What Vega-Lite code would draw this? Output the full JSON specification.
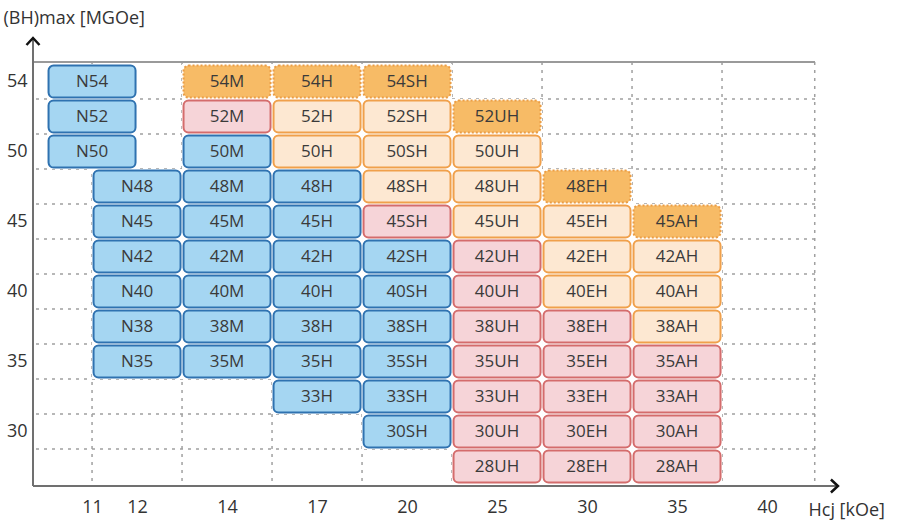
{
  "$schema": "https://vega.github.io/schema/vega-lite/v6.json",
  "width": 782,
  "height": 424,
  "autosize": {"type": "none"},
  "padding": {"left": 33, "top": 62, "right": 87, "bottom": 42},
  "background": "white",
  "config": {"view": {"stroke": null}, "font": "Open Sans"},
  "datasets": {
    "grades": [
      {"grade": "N54", "c0": 0.5, "c1": 1.5, "r0": 11, "r1": 12, "type": "B"},
      {"grade": "N52", "c0": 0.5, "c1": 1.5, "r0": 10, "r1": 11, "type": "B"},
      {"grade": "N50", "c0": 0.5, "c1": 1.5, "r0": 9, "r1": 10, "type": "B"},
      {"grade": "N48", "c0": 1, "c1": 2, "r0": 8, "r1": 9, "type": "B"},
      {"grade": "N45", "c0": 1, "c1": 2, "r0": 7, "r1": 8, "type": "B"},
      {"grade": "N42", "c0": 1, "c1": 2, "r0": 6, "r1": 7, "type": "B"},
      {"grade": "N40", "c0": 1, "c1": 2, "r0": 5, "r1": 6, "type": "B"},
      {"grade": "N38", "c0": 1, "c1": 2, "r0": 4, "r1": 5, "type": "B"},
      {"grade": "N35", "c0": 1, "c1": 2, "r0": 3, "r1": 4, "type": "B"},
      {"grade": "54M", "c0": 2, "c1": 3, "r0": 11, "r1": 12, "type": "O"},
      {"grade": "52M", "c0": 2, "c1": 3, "r0": 10, "r1": 11, "type": "R"},
      {"grade": "50M", "c0": 2, "c1": 3, "r0": 9, "r1": 10, "type": "B"},
      {"grade": "48M", "c0": 2, "c1": 3, "r0": 8, "r1": 9, "type": "B"},
      {"grade": "45M", "c0": 2, "c1": 3, "r0": 7, "r1": 8, "type": "B"},
      {"grade": "42M", "c0": 2, "c1": 3, "r0": 6, "r1": 7, "type": "B"},
      {"grade": "40M", "c0": 2, "c1": 3, "r0": 5, "r1": 6, "type": "B"},
      {"grade": "38M", "c0": 2, "c1": 3, "r0": 4, "r1": 5, "type": "B"},
      {"grade": "35M", "c0": 2, "c1": 3, "r0": 3, "r1": 4, "type": "B"},
      {"grade": "54H", "c0": 3, "c1": 4, "r0": 11, "r1": 12, "type": "O"},
      {"grade": "52H", "c0": 3, "c1": 4, "r0": 10, "r1": 11, "type": "P"},
      {"grade": "50H", "c0": 3, "c1": 4, "r0": 9, "r1": 10, "type": "P"},
      {"grade": "48H", "c0": 3, "c1": 4, "r0": 8, "r1": 9, "type": "B"},
      {"grade": "45H", "c0": 3, "c1": 4, "r0": 7, "r1": 8, "type": "B"},
      {"grade": "42H", "c0": 3, "c1": 4, "r0": 6, "r1": 7, "type": "B"},
      {"grade": "40H", "c0": 3, "c1": 4, "r0": 5, "r1": 6, "type": "B"},
      {"grade": "38H", "c0": 3, "c1": 4, "r0": 4, "r1": 5, "type": "B"},
      {"grade": "35H", "c0": 3, "c1": 4, "r0": 3, "r1": 4, "type": "B"},
      {"grade": "33H", "c0": 3, "c1": 4, "r0": 2, "r1": 3, "type": "B"},
      {"grade": "54SH", "c0": 4, "c1": 5, "r0": 11, "r1": 12, "type": "O"},
      {"grade": "52SH", "c0": 4, "c1": 5, "r0": 10, "r1": 11, "type": "P"},
      {"grade": "50SH", "c0": 4, "c1": 5, "r0": 9, "r1": 10, "type": "P"},
      {"grade": "48SH", "c0": 4, "c1": 5, "r0": 8, "r1": 9, "type": "P"},
      {"grade": "45SH", "c0": 4, "c1": 5, "r0": 7, "r1": 8, "type": "R"},
      {"grade": "42SH", "c0": 4, "c1": 5, "r0": 6, "r1": 7, "type": "B"},
      {"grade": "40SH", "c0": 4, "c1": 5, "r0": 5, "r1": 6, "type": "B"},
      {"grade": "38SH", "c0": 4, "c1": 5, "r0": 4, "r1": 5, "type": "B"},
      {"grade": "35SH", "c0": 4, "c1": 5, "r0": 3, "r1": 4, "type": "B"},
      {"grade": "33SH", "c0": 4, "c1": 5, "r0": 2, "r1": 3, "type": "B"},
      {"grade": "30SH", "c0": 4, "c1": 5, "r0": 1, "r1": 2, "type": "B"},
      {"grade": "52UH", "c0": 5, "c1": 6, "r0": 10, "r1": 11, "type": "O"},
      {"grade": "50UH", "c0": 5, "c1": 6, "r0": 9, "r1": 10, "type": "P"},
      {"grade": "48UH", "c0": 5, "c1": 6, "r0": 8, "r1": 9, "type": "P"},
      {"grade": "45UH", "c0": 5, "c1": 6, "r0": 7, "r1": 8, "type": "P"},
      {"grade": "42UH", "c0": 5, "c1": 6, "r0": 6, "r1": 7, "type": "R"},
      {"grade": "40UH", "c0": 5, "c1": 6, "r0": 5, "r1": 6, "type": "R"},
      {"grade": "38UH", "c0": 5, "c1": 6, "r0": 4, "r1": 5, "type": "R"},
      {"grade": "35UH", "c0": 5, "c1": 6, "r0": 3, "r1": 4, "type": "R"},
      {"grade": "33UH", "c0": 5, "c1": 6, "r0": 2, "r1": 3, "type": "R"},
      {"grade": "30UH", "c0": 5, "c1": 6, "r0": 1, "r1": 2, "type": "R"},
      {"grade": "28UH", "c0": 5, "c1": 6, "r0": 0, "r1": 1, "type": "R"},
      {"grade": "48EH", "c0": 6, "c1": 7, "r0": 8, "r1": 9, "type": "O"},
      {"grade": "45EH", "c0": 6, "c1": 7, "r0": 7, "r1": 8, "type": "P"},
      {"grade": "42EH", "c0": 6, "c1": 7, "r0": 6, "r1": 7, "type": "P"},
      {"grade": "40EH", "c0": 6, "c1": 7, "r0": 5, "r1": 6, "type": "P"},
      {"grade": "38EH", "c0": 6, "c1": 7, "r0": 4, "r1": 5, "type": "R"},
      {"grade": "35EH", "c0": 6, "c1": 7, "r0": 3, "r1": 4, "type": "R"},
      {"grade": "33EH", "c0": 6, "c1": 7, "r0": 2, "r1": 3, "type": "R"},
      {"grade": "30EH", "c0": 6, "c1": 7, "r0": 1, "r1": 2, "type": "R"},
      {"grade": "28EH", "c0": 6, "c1": 7, "r0": 0, "r1": 1, "type": "R"},
      {"grade": "45AH", "c0": 7, "c1": 8, "r0": 7, "r1": 8, "type": "O"},
      {"grade": "42AH", "c0": 7, "c1": 8, "r0": 6, "r1": 7, "type": "P"},
      {"grade": "40AH", "c0": 7, "c1": 8, "r0": 5, "r1": 6, "type": "P"},
      {"grade": "38AH", "c0": 7, "c1": 8, "r0": 4, "r1": 5, "type": "P"},
      {"grade": "35AH", "c0": 7, "c1": 8, "r0": 3, "r1": 4, "type": "R"},
      {"grade": "33AH", "c0": 7, "c1": 8, "r0": 2, "r1": 3, "type": "R"},
      {"grade": "30AH", "c0": 7, "c1": 8, "r0": 1, "r1": 2, "type": "R"},
      {"grade": "28AH", "c0": 7, "c1": 8, "r0": 0, "r1": 1, "type": "R"}
    ],
    "hgrid": [{"g": 1}, {"g": 2}, {"g": 3}, {"g": 4}, {"g": 5}, {"g": 6}, {"g": 7}, {"g": 8}, {"g": 9}, {"g": 10}, {"g": 11}],
    "vgrid": [{"g": 1}, {"g": 2}, {"g": 3}, {"g": 4}, {"g": 5}, {"g": 6}, {"g": 7}, {"g": 8}, {"g": 9.03}],
    "one": [{"k": 1}]
  },
  "layer": [
    {
      "data": {"name": "hgrid"},
      "mark": {"type": "rule", "stroke": "#a0a0a0", "strokeWidth": 1.5, "strokeDash": [3, 5]},
      "encoding": {
        "y": {
          "field": "g", "type": "quantitative",
          "scale": {"domain": [-0.06, 12.06], "nice": false, "zero": false},
          "axis": {
            "title": "(BH)max [MGOe]",
            "values": [1.5, 3.5, 5.5, 7.5, 9.5, 11.5],
            "labelExpr": "['30','35','40','45','50','54'][indexof([1.5,3.5,5.5,7.5,9.5,11.5], datum.value)]",
            "domain": false, "ticks": false, "grid": false,
            "labelFontSize": 18, "labelColor": "#333333", "labelPadding": 6,
            "labelFont": "Open Sans",
            "titleAngle": 0, "titleAlign": "left", "titleBaseline": "middle",
            "titleX": -30, "titleY": -44, "titleFontSize": 18, "titleFontWeight": "normal",
            "titleColor": "#333333", "titleFont": "Open Sans"
          }
        }
      }
    },
    {
      "data": {"name": "vgrid"},
      "mark": {"type": "rule", "stroke": "#a0a0a0", "strokeWidth": 1.5, "strokeDash": [3, 5]},
      "encoding": {
        "x": {
          "field": "g", "type": "quantitative",
          "scale": {"domain": [0.344, 9.033], "nice": false, "zero": false},
          "axis": {
            "title": "Hcj [kOe]",
            "values": [1, 1.5, 2.5, 3.5, 4.5, 5.5, 6.5, 7.5, 8.5],
            "labelExpr": "['11','12','14','17','20','25','30','35','40'][indexof([1,1.5,2.5,3.5,4.5,5.5,6.5,7.5,8.5], datum.value)]",
            "domain": false, "ticks": false, "grid": false,
            "labelFontSize": 18, "labelColor": "#333333", "labelPadding": 12,
            "labelFont": "Open Sans",
            "titleAlign": "left", "titleBaseline": "middle",
            "titleX": 775, "titleY": 24, "titleFontSize": 18, "titleFontWeight": "normal",
            "titleColor": "#333333", "titleFont": "Open Sans"
          }
        }
      }
    },
    {
      "data": {"name": "one"},
      "mark": {"type": "rule", "stroke": "#9a9a9a", "strokeWidth": 2},
      "encoding": {
        "y": {"datum": 12.06, "type": "quantitative"}
      }
    },
    {
      "data": {"name": "grades"},
      "mark": {"type": "rect", "fill": "white", "stroke": null},
      "encoding": {
        "x": {"field": "c0", "type": "quantitative"},
        "x2": {"field": "c1"},
        "y": {"field": "r0", "type": "quantitative"},
        "y2": {"field": "r1"}
      }
    },
    {
      "data": {"name": "grades"},
      "transform": [{"filter": "datum.type !== 'O'"}],
      "mark": {"type": "rect", "cornerRadius": 5, "strokeWidth": 2, "xOffset": 1.5, "x2Offset": -1.5, "yOffset": -1.5, "y2Offset": 1.5},
      "encoding": {
        "x": {"field": "c0", "type": "quantitative"},
        "x2": {"field": "c1"},
        "y": {"field": "r0", "type": "quantitative"},
        "y2": {"field": "r1"},
        "fill": {
          "field": "type", "type": "nominal", "legend": null,
          "scale": {"domain": ["B", "O", "P", "R"], "range": ["#a5d6f2", "#f7bb66", "#fde8d2", "#f6d4d8"]}
        },
        "stroke": {
          "field": "type", "type": "nominal", "legend": null,
          "scale": {"domain": ["B", "O", "P", "R"], "range": ["#2f72b0", "#eb9d45", "#f0a04b", "#d46c6c"]}
        }
      }
    },
    {
      "data": {"name": "grades"},
      "transform": [{"filter": "datum.type === 'O'"}],
      "mark": {"type": "rect", "cornerRadius": 5, "strokeWidth": 2, "strokeDash": [2, 2], "xOffset": 1.5, "x2Offset": -1.5, "yOffset": -1.5, "y2Offset": 1.5},
      "encoding": {
        "x": {"field": "c0", "type": "quantitative"},
        "x2": {"field": "c1"},
        "y": {"field": "r0", "type": "quantitative"},
        "y2": {"field": "r1"},
        "fill": {"field": "type", "type": "nominal", "legend": null},
        "stroke": {"field": "type", "type": "nominal", "legend": null}
      }
    },
    {
      "data": {"name": "grades"},
      "mark": {"type": "text", "fontSize": 17, "font": "Open Sans", "fill": "#3a3a3a", "align": "center", "baseline": "middle", "xOffset": 45, "yOffset": -17},
      "encoding": {
        "x": {"field": "c0", "type": "quantitative"},
        "y": {"field": "r0", "type": "quantitative"},
        "text": {"field": "grade"}
      }
    },
    {
      "data": {"name": "one"},
      "mark": {"type": "rule", "stroke": "#707070", "strokeWidth": 2},
      "encoding": {
        "x": {"datum": 0.344, "type": "quantitative"},
        "y": {"datum": -0.06, "type": "quantitative"},
        "y2": {"datum": 12.746}
      }
    },
    {
      "data": {"name": "one"},
      "mark": {"type": "rule", "stroke": "#707070", "strokeWidth": 2},
      "encoding": {
        "x": {"datum": 0.344, "type": "quantitative"},
        "x2": {"datum": 9.288},
        "y": {"datum": -0.06, "type": "quantitative"}
      }
    },
    {
      "data": {"name": "one"},
      "mark": {"type": "point", "shape": "M-1,1.08L0,0L1,1.08", "filled": false, "stroke": "#111111", "strokeWidth": 2.5, "size": 169, "opacity": 1},
      "encoding": {
        "x": {"datum": 0.344, "type": "quantitative"},
        "y": {"datum": 12.746, "type": "quantitative"}
      }
    },
    {
      "data": {"name": "one"},
      "mark": {"type": "point", "shape": "M-1.08,-1L0,0L-1.08,1", "filled": false, "stroke": "#111111", "strokeWidth": 2.5, "size": 169, "opacity": 1},
      "encoding": {
        "x": {"datum": 9.288, "type": "quantitative"},
        "y": {"datum": -0.06, "type": "quantitative"}
      }
    }
  ]
}
